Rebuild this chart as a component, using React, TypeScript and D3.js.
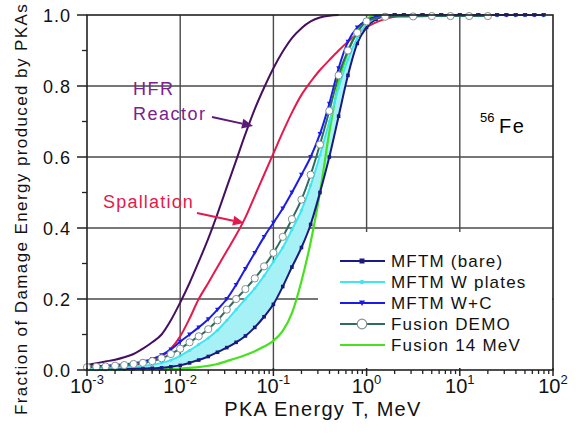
import React from 'react';
import * as d3 from 'd3';

// energy grid, 0.1 decade steps from 1e-3 to ~80 MeV
const energyGrid = [
  0.001, 0.00126, 0.00158, 0.002, 0.00251, 0.00316, 0.00398, 0.00501, 0.00631, 0.00794,
  0.01, 0.0126, 0.0158, 0.02, 0.0251, 0.0316, 0.0398, 0.0501, 0.0631, 0.0794,
  0.1, 0.126, 0.158, 0.2, 0.251, 0.316, 0.398, 0.501, 0.631, 0.794,
  1, 1.26, 1.58, 2, 2.51, 3.16, 3.98, 5.01, 6.31, 7.94,
  10, 12.6, 15.8, 20, 25.1, 31.6, 39.8, 50.1, 63.1, 79.4,
];

const hfrReactor = [
  0.014, 0.019, 0.024, 0.029, 0.036, 0.045, 0.06, 0.078, 0.1, 0.14,
  0.19, 0.245, 0.305, 0.37, 0.44, 0.515, 0.59, 0.665, 0.735, 0.795,
  0.85, 0.897, 0.935, 0.963, 0.982, 0.993, 0.998, 1.0,
];
const spallation = [
  0.006, 0.007, 0.008, 0.01, 0.012, 0.015, 0.019, 0.026, 0.038, 0.06,
  0.095, 0.145, 0.2, 0.245, 0.29, 0.335, 0.38, 0.43, 0.49, 0.55,
  0.61, 0.67, 0.725, 0.775, 0.812, 0.845, 0.873, 0.9, 0.925, 0.947,
  0.965, 0.979, 0.989, 0.996, 1.0, 1.0, 1.0,
];
const mftmBare = [
  0.002, 0.002, 0.002, 0.003, 0.003, 0.004, 0.004, 0.005, 0.006, 0.009,
  0.013, 0.02, 0.028, 0.038, 0.05, 0.063, 0.078, 0.096, 0.12, 0.15,
  0.185, 0.235, 0.29, 0.345, 0.41, 0.5, 0.6, 0.715, 0.83, 0.92,
  0.965, 0.988, 0.997, 1, 1, 1, 1, 1, 1, 1,
  1, 1, 1, 1, 1, 1, 1, 1, 1, 1,
];
const mftmWPlates = [
  0.004, 0.005, 0.006, 0.007, 0.008, 0.01, 0.012, 0.015, 0.02, 0.028,
  0.04, 0.055, 0.072, 0.09, 0.112, 0.14, 0.17, 0.2, 0.23, 0.265,
  0.305, 0.345, 0.395, 0.45, 0.52, 0.605, 0.7, 0.795, 0.875, 0.935,
  0.975, 0.992, 1, 1, 1, 1, 1, 1, 1, 1,
  1, 1, 1, 1, 1, 1, 1, 1, 1, 1,
];
const mftmWC = [
  0.01, 0.011, 0.012, 0.014, 0.016, 0.019, 0.024, 0.031, 0.042, 0.058,
  0.08, 0.1, 0.12, 0.143, 0.17, 0.2, 0.24, 0.285, 0.33, 0.375,
  0.415, 0.455, 0.5, 0.55, 0.6, 0.665, 0.75, 0.85, 0.925, 0.965,
  0.985, 0.995, 1, 1, 1, 1, 1, 1, 1, 1,
  1, 1, 1, 1, 1, 1, 1, 1, 1, 1,
];
const fusionDemo = [
  0.008, 0.009, 0.01, 0.012, 0.014, 0.017, 0.02, 0.025, 0.033, 0.045,
  0.06, 0.078, 0.095, 0.115, 0.14, 0.17, 0.2, 0.228, 0.258, 0.292,
  0.33, 0.375, 0.425, 0.48, 0.55, 0.635, 0.73, 0.83, 0.9, 0.95,
  0.982,
];
const demoTailEnergy = [1.58, 3.16, 5.01, 7.94, 12.6, 20];
const demoTail = [0.995, 0.996, 0.997, 0.997, 0.997, 0.997];
const fusion14 = [
  0, 0, 0.0005, 0.0008, 0.001, 0.0012, 0.0015, 0.0018, 0.002, 0.003,
  0.004, 0.006, 0.008, 0.012, 0.017, 0.025, 0.033, 0.042, 0.053, 0.066,
  0.082, 0.11, 0.16, 0.25, 0.36, 0.5, 0.67, 0.81, 0.895, 0.955,
  0.988, 1, 1, 1,
];

const xMajor = [1e-3, 1e-2, 1e-1, 1, 10, 100];
const xExponents = ['-3', '-2', '-1', '0', '1', '2'];
const yMajor = [0, 0.2, 0.4, 0.6, 0.8, 1.0];
const legendLabels = ['MFTM (bare)', 'MFTM W plates', 'MFTM W+C', 'Fusion DEMO', 'Fusion 14 MeV'];

const FONT = '"Liberation Sans", Arial, Helvetica, sans-serif';
const C = {
  hfr: '#45105e',
  hfrText: '#7a2290',
  spall: '#e5194b',
  bare: '#1a1a80',
  wp: '#3fe6f2',
  wpFill: '#a6f1f6',
  wc: '#1c1ce8',
  demo: '#2f6b5e',
  f14: '#46e21e',
  grid: '#4a4a4a',
};

const x = d3.scaleLog().domain([1e-3, 1e2]).range([87, 553]);
const y = d3.scaleLinear().domain([0, 1]).range([370, 15]);

const pts = (vals: number[], es: number[] = energyGrid) =>
  vals.map((v, i) => [es[i], v] as [number, number]);

const line = d3
  .line<[number, number]>()
  .x((d) => x(d[0]))
  .y((d) => y(d[1]))
  .curve(d3.curveMonotoneX);

function Arrow({ x1, y1, x2, y2, color }: { x1: number; y1: number; x2: number; y2: number; color: string }) {
  const a = Math.atan2(y2 - y1, x2 - x1);
  const L = 11, w = 5;
  const bx = x2 - L * Math.cos(a), by = y2 - L * Math.sin(a);
  const p = [
    [x2, y2],
    [bx + w * Math.sin(a), by - w * Math.cos(a)],
    [bx - w * Math.sin(a), by + w * Math.cos(a)],
  ];
  return (
    <g>
      <line x1={x1} y1={y1} x2={bx} y2={by} stroke={color} strokeWidth={2} />
      <polygon points={p.map((q) => q.join(',')).join(' ')} fill={color} />
    </g>
  );
}

function tri(cx: number, cy: number, s: number) {
  return `${cx - s},${cy - s * 0.8} ${cx + s},${cy - s * 0.8} ${cx},${cy + s}`;
}

export default function App() {
  const bare = pts(mftmBare);
  const wp = pts(mftmWPlates);
  const wc = pts(mftmWC);
  const demo = [...pts(fusionDemo), ...pts(demoTail, demoTailEnergy)];

  const band = d3
    .area<number>()
    .x((_, i) => x(energyGrid[i]))
    .y0((_, i) => y(mftmBare[i]))
    .y1((v) => y(v))
    .curve(d3.curveMonotoneX)(mftmWPlates);

  const minor = x.ticks().filter((t) => !xMajor.some((m) => Math.abs(m - t) / m < 1e-6));
  const yMinor = y.ticks(10).filter((t) => !yMajor.some((m) => Math.abs(m - t) < 1e-6));

  const legY = [261, 282, 303, 324, 345];

  return (
    <svg width={580} height={436} style={{ position: 'absolute', left: 0, top: 0, background: '#fff' }} fontFamily={FONT}>
      {/* grid */}
      {xMajor.slice(1, -1).map((t) => (
        <line key={t} x1={x(t)} x2={x(t)} y1={y(1)} y2={y(0)} stroke={C.grid} strokeWidth={1.4} />
      ))}
      {yMajor.slice(1, -1).map((t) => (
        <line key={t} x1={x(1e-3)} x2={x(1e2)} y1={y(t)} y2={y(t)} stroke={C.grid} strokeWidth={1.4} />
      ))}

      {/* cyan band */}
      <path d={band || ''} fill={C.wpFill} />

      <path d={line(pts(hfrReactor)) || ''} fill="none" stroke={C.hfr} strokeWidth={2} />
      <path d={line(pts(spallation)) || ''} fill="none" stroke={C.spall} strokeWidth={2} />
      <path d={line(pts(fusion14)) || ''} fill="none" stroke={C.f14} strokeWidth={2.2} />

      <path d={line(bare) || ''} fill="none" stroke={C.bare} strokeWidth={2} />
      {bare.map((d, i) => (
        <rect key={i} x={x(d[0]) - 1.8} y={y(d[1]) - 1.8} width={3.6} height={3.6} fill={C.bare} />
      ))}
      <path d={line(wp) || ''} fill="none" stroke={C.wp} strokeWidth={2} />
      {wp.map((d, i) => (
        <circle key={i} cx={x(d[0])} cy={y(d[1])} r={1.6} fill={C.wp} />
      ))}
      <path d={line(wc) || ''} fill="none" stroke={C.wc} strokeWidth={2} />
      {wc.map((d, i) => (
        <polygon key={i} points={tri(x(d[0]), y(d[1]), 2.4)} fill={C.wc} />
      ))}
      <path d={line(demo) || ''} fill="none" stroke={C.demo} strokeWidth={2} />
      {demo.map((d, i) => (
        <circle key={i} cx={x(d[0])} cy={y(d[1])} r={3.6} fill="#fff" stroke="#7f9490" strokeWidth={1} />
      ))}

      {/* annotations */}
      <text x={133} y={95} fontSize={18} fill={C.hfrText} letterSpacing={1.5}>HFR</text>
      <text x={133} y={120} fontSize={18} fill={C.hfrText} letterSpacing={1.5}>Reactor</text>
      <Arrow x1={212} y1={117} x2={253} y2={126} color="#5a1a78" />
      <text x={103} y={208} fontSize={18} fill={C.spall} letterSpacing={1.2}>Spallation</text>
      <Arrow x1={197} y1={213} x2={244} y2={223} color={C.spall} />
      <text x={480} y={122} fontSize={13} fill="#000">56</text>
      <text x={499} y={133} fontSize={20} fill="#000" letterSpacing={1.5}>Fe</text>

      {/* legend */}
      <rect x={318} y={232} width={234} height={137} fill="#fff" />
      {legendLabels.map((lab, i) => {
        const ly = legY[i];
        const col = [C.bare, C.wp, C.wc, C.demo, C.f14][i];
        return (
          <g key={lab}>
            <line x1={340} x2={385} y1={ly} y2={ly} stroke={col} strokeWidth={2.2} />
            {i === 0 && <rect x={359.5} y={ly - 2.5} width={5} height={5} fill={C.bare} />}
            {i === 1 && <circle cx={362} cy={ly} r={2.2} fill={C.wp} />}
            {i === 2 && <polygon points={tri(362, ly, 3)} fill={C.wc} />}
            {i === 3 && <circle cx={362} cy={ly} r={4.8} fill="#fff" stroke="#7f9490" strokeWidth={1.2} />}
            <text x={391} y={ly + 6} fontSize={17} letterSpacing={1.2} fill="#111">{lab}</text>
          </g>
        );
      })}

      {/* frame */}
      <rect x={x(1e-3)} y={y(1)} width={x(1e2) - x(1e-3)} height={y(0) - y(1)} fill="none" stroke="#222" strokeWidth={1.6} />

      {/* x ticks */}
      {minor.map((t) => (
        <line key={t} x1={x(t)} x2={x(t)} y1={y(0)} y2={y(0) + 4} stroke="#222" strokeWidth={1.3} />
      ))}
      {xMajor.map((t, i) => (
        <g key={t}>
          <line x1={x(t)} x2={x(t)} y1={y(0) - 2} y2={y(0) + 6} stroke="#222" strokeWidth={1.5} />
          <text x={x(t)} y={393} fontSize={20} textAnchor="middle" fill="#111">
            10<tspan fontSize={13} dy={-9}>{xExponents[i]}</tspan>
          </text>
        </g>
      ))}

      {/* y ticks */}
      {yMinor.map((t) => (
        <line key={t} x1={x(1e-3) - 5} x2={x(1e-3)} y1={y(t)} y2={y(t)} stroke="#222" strokeWidth={1.3} />
      ))}
      {yMajor.map((t) => (
        <g key={t}>
          <line x1={x(1e-3) - 10} x2={x(1e-3)} y1={y(t)} y2={y(t)} stroke="#222" strokeWidth={1.5} />
          <text x={71} y={y(t) + 6.5} fontSize={18} textAnchor="end" letterSpacing={1} fill="#111">
            {t.toFixed(1)}
          </text>
        </g>
      ))}

      {/* axis titles */}
      <text x={323} y={416} fontSize={20} textAnchor="middle" letterSpacing={1.3} fill="#111">
        PKA Energy T, MeV
      </text>
      <text transform="translate(27,209) rotate(-90)" fontSize={17} textAnchor="middle" letterSpacing={1.4} fill="#111">
        Fraction of Damage Energy produced by PKAs
      </text>
    </svg>
  );
}
